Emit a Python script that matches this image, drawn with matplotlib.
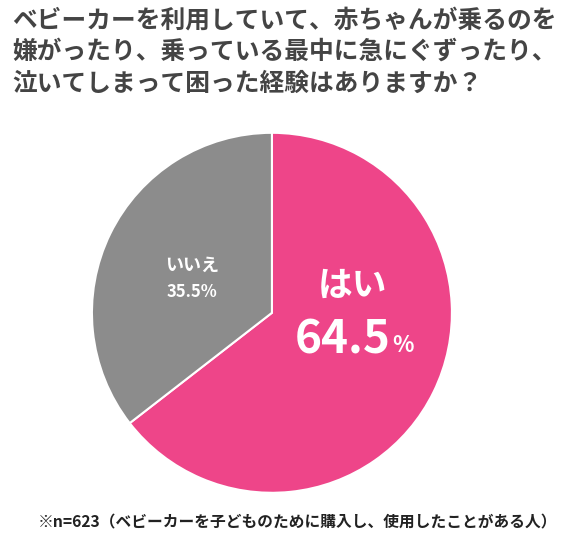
import matplotlib
matplotlib.use("Agg")
import matplotlib.pyplot as plt

plt.rcParams['font.family'] = ['Noto Sans CJK JP', 'DejaVu Sans']

labels = ["はい", "いいえ"]
values = [64.5, 35.5]
colors = ["#EE4589", "#8C8C8C"]

fig = plt.figure(figsize=(5.63, 5.44), dpi=100)
ax = fig.add_axes([0.483 - 0.3197, 0.425 - 0.3309, 0.6394, 0.6618])
ax.pie(values, colors=colors, startangle=90, counterclock=False,
       wedgeprops=dict(edgecolor="white", linewidth=1.5))
ax.set_xlim(-1.0, 1.0)
ax.set_ylim(-1.0, 1.0)
ax.set_aspect('equal')

title = ("ベビーカーを利用していて、赤ちゃんが乗るのを\n"
         "嫌がったり、乗っている最中に急にぐずったり、\n"
         "泣いてしまって困った経験はありますか？")
fig.text(0.022, 0.985, title, ha='left', va='top', fontsize=17.8, fontweight='bold',
         color='#444444', linespacing=1.4)

fig.text(352/563, 1-285/544, labels[0], ha='center', va='center', fontsize=25,
         fontweight='bold', color='white')
fig.text(391/563, 1-340/544, f"{values[0]}", ha='right', va='center', fontsize=33,
         fontweight='bold', color='white')
fig.text(392/563, 1-346/544, "%", ha='left', va='center', fontsize=16,
         fontweight='bold', color='white')
fig.text(192/563, 1-265/544, labels[1], ha='center', va='center', fontsize=13,
         fontweight='bold', color='white')
fig.text(192/563, 1-292/544, f"{values[1]}%", ha='center', va='center', fontsize=12,
         fontweight='bold', color='white')

fig.text(0.528, 1-522/544, "※n=623（ベビーカーを子どものために購入し、使用したことがある人）",
         ha='center', va='center', fontsize=11.3, fontweight='bold', color='#222222')

fig.savefig("out.png", dpi=100, facecolor='white')
